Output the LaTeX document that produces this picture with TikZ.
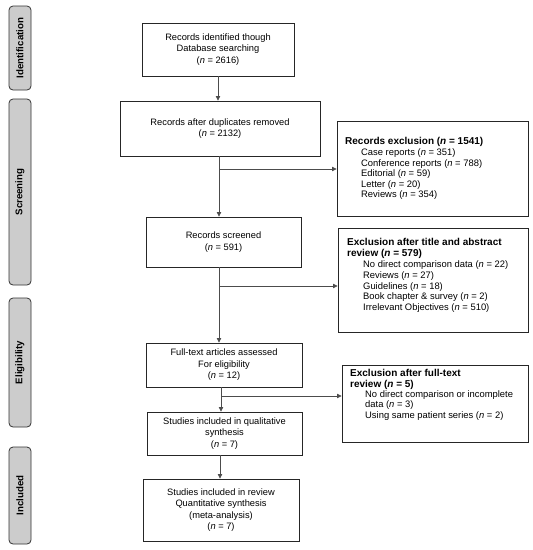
\documentclass[tikz,border=0pt]{standalone}
\usepackage{fontspec}
\setmainfont{Liberation Sans}
\usetikzlibrary{arrows.meta}
\begin{document}
\begin{tikzpicture}[x=1pt,y=-1pt,
  stage/.style={draw=black!80, line width=0.8pt, fill=black!20, rounded corners=4pt, minimum height=22pt, inner sep=0pt, font=\fontsize{9.7}{11}\selectfont\bfseries, rotate=90},
  cbox/.style={draw=black!85, line width=0.9pt, inner sep=0pt, align=center, font=\fontsize{9.3}{11.5}\selectfont},
  rbox/.style={draw=black!85, line width=0.9pt, inner sep=0pt},
  rtext/.style={anchor=north west, inner sep=0pt, align=left, font=\fontsize{9.4}{10.6}\selectfont},
  conn/.style={draw=black!70, line width=0.7pt},
  arr/.style={conn, -{Triangle[length=4.5pt,width=4.5pt]}}]
\useasboundingbox (0,0) rectangle (533,550);
% stage bars
\node[stage, minimum width=84pt] (sid) at (20,48) {Identification};
\node[stage, minimum width=186pt] (sscr) at (20,192) {Screening};
\node[stage, minimum width=129pt] (selg) at (20,362.5) {Eligibility};
\node[stage, minimum width=97pt] (sinc) at (20,495.5) {Included};
% main boxes
\node[cbox, minimum width=152pt, minimum height=53pt] (b1) at (218,49.5) {Records identified though\\Database searching\\(\textit{n} = 2616)};
\node[cbox, minimum width=200pt, minimum height=55pt] (b2) at (220,128.5) {Records after duplicates removed\\(\textit{n} = 2132)};
\node[cbox, minimum width=155pt, minimum height=50pt] (b3) at (223.5,242) {Records screened\\(\textit{n} = 591)};
\node[cbox, minimum width=156pt, minimum height=44pt] (b4) at (224,365) {Full-text articles assessed\\For eligibility\\(\textit{n} = 12)};
\node[cbox, minimum width=155pt, minimum height=43pt] (b5) at (224.5,433.5) {Studies included in qualitative\\synthesis\\(\textit{n} = 7)};
\node[cbox, minimum width=156pt, minimum height=62pt] (b6) at (221,510) {Studies included in review\\Quantitative synthesis\\(meta-analysis)\\(\textit{n} = 7)};
% right boxes
\node[rbox, minimum width=191pt, minimum height=95pt] (r1) at (432.5,168.5) {};
\node[rbox, minimum width=190pt, minimum height=104pt] (r2) at (433,280) {};
\node[rbox, minimum width=186pt, minimum height=77pt] (r3) at (435,403.5) {};
\node[rtext] (t1) at (345,137.5) {{\fontsize{10}{10.6}\selectfont\bfseries Records exclusion (\textit{n} = 1541)}\\%
\hspace*{16pt}Case reports (\textit{n} = 351)\\%
\hspace*{16pt}Conference reports (\textit{n} = 788)\\%
\hspace*{16pt}Editorial (\textit{n} = 59)\\%
\hspace*{16pt}Letter (\textit{n} = 20)\\%
\hspace*{16pt}Reviews (\textit{n} = 354)};
\node[rtext, font=\fontsize{9.4}{10.8}\selectfont] (t2) at (347,238.5) {{\fontsize{10}{10.8}\selectfont\bfseries Exclusion after title and abstract}\\%
{\fontsize{10}{10.8}\selectfont\bfseries review (\textit{n} = 579)}\\%
\hspace*{16pt}No direct comparison data (\textit{n} = 22)\\%
\hspace*{16pt}Reviews (\textit{n} = 27)\\%
\hspace*{16pt}Guidelines (\textit{n} = 18)\\%
\hspace*{16pt}Book chapter \& survey (\textit{n} = 2)\\%
\hspace*{16pt}Irrelevant Objectives (\textit{n} = 510)};
\node[rtext, font=\fontsize{9.4}{10.3}\selectfont] (t3) at (350,369.5) {{\fontsize{10}{10.3}\selectfont\bfseries Exclusion after full-text}\\%
{\fontsize{10}{10.3}\selectfont\bfseries review (\textit{n} = 5)}\\%
\hspace*{15pt}No direct comparison or incomplete\\%
\hspace*{15pt}data (\textit{n} = 3)\\%
\hspace*{15pt}Using same patient series (\textit{n} = 2)};
% junctions
\coordinate (j1) at (219,169);
\coordinate (j2) at (219,286);
\coordinate (j3) at (221,396);
% connectors
\draw[arr] (b1.south -| 218,0) -- (b2.north -| 218,0);
\draw[arr] (b2.south -| j1) -- (b3.north -| j1);
\draw[arr] (j1) -- (j1 -| r1.west);
\draw[arr] (b3.south -| j2) -- (b4.north -| j2);
\draw[arr] (j2) -- (j2 -| r2.west);
\draw[arr] (b4.south -| j3) -- (b5.north -| j3);
\draw[arr] (j3) -- (j3 -| r3.west);
\draw[arr] (b5.south -| 220,0) -- (b6.north -| 220,0);
\end{tikzpicture}
\end{document}
